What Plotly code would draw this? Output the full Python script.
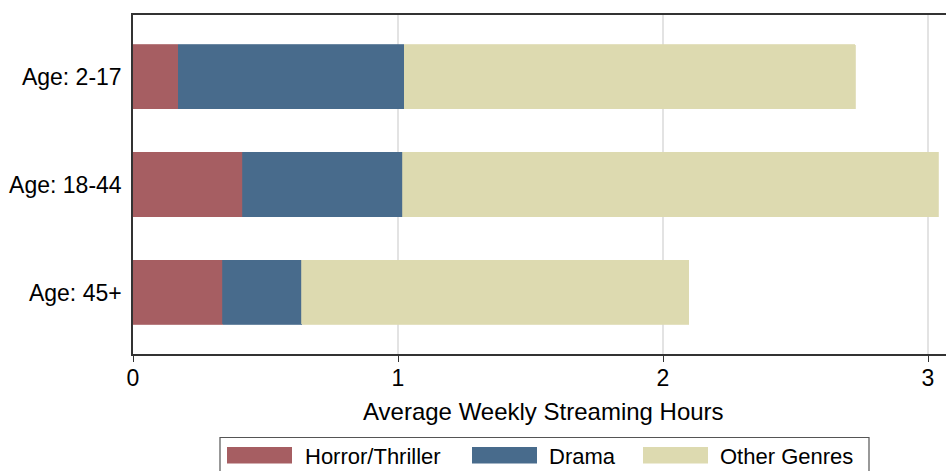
import plotly.graph_objects as go

categories = ["Age: 2-17", "Age: 18-44", "Age: 45+"]
horror = [0.17, 0.414, 0.338]
drama = [0.853, 0.604, 0.298]
other = [1.702, 2.021, 1.462]
series_names = ["Horror/Thriller", "Drama", "Other Genres"]
colors = ["#A65E62", "#486B8C", "#DDDAB0"]
x_ticks = [0, 1, 2, 3]

W, H = 946, 471
# plot area in page pixels
PL, PR, PT, PB = 133, 946, 15, 354
ML, MR, MT, MB = PL, W - PR, PT, H - PB
PW, PH = PR - PL, PB - PT
UNIT = 265.0  # pixels per hour

def px(x):
    return (x - PL) / PW

def py(y):
    return (PB - y) / PH

fig = go.Figure()
for name, vals, col in zip(series_names, [horror, drama, other], colors):
    fig.add_trace(go.Bar(
        y=categories, x=vals, name=name, orientation="h",
        marker=dict(color=col, line=dict(color=col, width=0.8)),
        width=0.593, showlegend=False,
    ))

font = "Liberation Sans, Arial, Helvetica, sans-serif"

shapes = []
annotations = []
# legend box
shapes.append(dict(type="rect", xref="paper", yref="paper",
                   x0=px(220), x1=px(869), y0=py(490), y1=py(437.5),
                   line=dict(color="#555555", width=1.2), fillcolor="white", layer="above"))
sw = [(227, 292, 303), (472, 537, 547), (643, 708, 718)]
for (a, b, t), name, col in zip(sw, series_names, colors):
    shapes.append(dict(type="rect", xref="paper", yref="paper",
                       x0=px(a), x1=px(b), y0=py(463.5), y1=py(447),
                       line=dict(color=col, width=0), fillcolor=col, layer="above"))
    annotations.append(dict(text=name, xref="paper", yref="paper", x=px(t), y=py(456),
                            xanchor="left", yanchor="middle", showarrow=False,
                            font=dict(family=font, size=22, color="black")))
annotations.append(dict(text="Average Weekly Streaming Hours", xref="paper", yref="paper",
                        x=px(543.5), y=py(411), xanchor="center", yanchor="middle",
                        showarrow=False, font=dict(family=font, size=24, color="black")))

fig.update_layout(
    width=W, height=H, barmode="stack",
    margin=dict(l=ML, r=MR, t=MT, b=MB, pad=0),
    paper_bgcolor="white", plot_bgcolor="white",
    font=dict(family=font, size=23, color="black"),
    shapes=shapes, annotations=annotations,
    xaxis=dict(range=[0, PW / UNIT], tickmode="array", tickvals=x_ticks,
               ticktext=[str(v) for v in x_ticks],
               showgrid=True, gridcolor="#E3E3E3", gridwidth=1.5,
               showline=True, linecolor="#333333", linewidth=1.5, mirror=True,
               ticks="outside", ticklen=6, tickwidth=1.2, tickcolor="#333333",
               ticklabelstandoff=-3,
               zeroline=False, tickfont=dict(size=23, color="black")),
    yaxis=dict(categoryorder="array", categoryarray=categories,
               range=[2.57, -0.57], showgrid=False, zeroline=False,
               showline=True, linecolor="#333333", linewidth=1.5, mirror=False,
               ticks="", ticklabelstandoff=5, tickfont=dict(size=23, color="black")),
)

fig.write_html("out.html", config={"displayModeBar": False},
               post_script="document.body.style.margin='0px';document.body.style.overflow='hidden';")
